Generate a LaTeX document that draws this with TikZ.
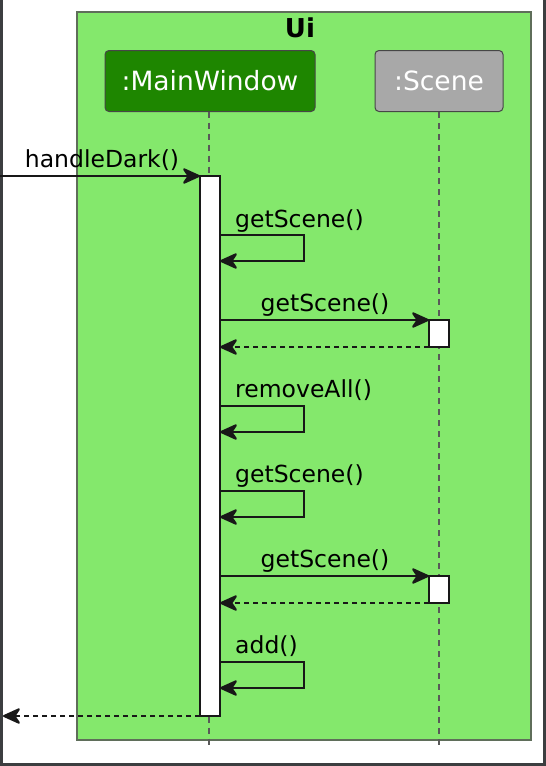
\documentclass[tikz,border=0pt]{standalone}
\usepackage{fontspec}
\setmainfont{DejaVu Sans}
\usetikzlibrary{arrows.meta}
\definecolor{uibg}{RGB}{132,232,108}
\definecolor{uiborder}{RGB}{95,110,90}
\definecolor{mwfill}{RGB}{30,134,0}
\definecolor{scfill}{RGB}{168,168,168}
\definecolor{frame}{RGB}{60,62,64}
\definecolor{ink}{RGB}{24,24,24}
\tikzset{
  head/.style={draw=ink!80, line width=1pt, rounded corners=4pt, text=white,
    font=\fontsize{26.5}{30}\selectfont, minimum height=61pt, inner sep=0pt},
  life/.style={draw=black!65, line width=1.2pt, dash pattern=on 6pt off 5pt},
  actbar/.style={draw=ink, fill=white, line width=2pt, minimum width=20pt, inner sep=0pt, outer sep=0pt},
  msg/.style={draw=ink, line width=2pt, -{Stealth[length=20pt,width=18pt,inset=6pt,round]}},
  ret/.style={msg, dash pattern=on 5pt off 4pt},
  lbl/.style={font=\fontsize{23.5}{28}\selectfont, text=black, inner sep=0pt}
}
\begin{document}
\begin{tikzpicture}[x=1pt,y=-1pt]
\useasboundingbox (0,0) rectangle (546,766);
\fill[white] (0,0) rectangle (546,766);
% window frame
\draw[frame, line width=3pt] (1.5,0) -- (1.5,764.5) -- (544.5,764.5) -- (544.5,0);
% Ui box
\draw[uiborder, fill=uibg, line width=1.5pt] (77,12) rectangle (531,740);
\node[font=\bfseries\fontsize{26}{30}\selectfont, anchor=base] (ui) at (300,37) {Ui};
% participants
\node[head, fill=mwfill, minimum width=210pt] (mw) at (210,81) {:MainWindow};
\node[head, fill=scfill, minimum width=128pt] (sc) at (439,81) {:Scene};
\coordinate (mwtop) at (209,111.5);
\coordinate (mwend) at (209,746);
\coordinate (scend) at (439,746);
\draw[life] (mwtop) -- (mwend);
\draw[life] (sc.south) -- (scend);
% activation bars
\node[actbar, minimum height=540pt, anchor=north] (a1) at (210,176) {};
\node[actbar, minimum height=27pt, anchor=north] (s1) at (439,320) {};
\node[actbar, minimum height=27pt, anchor=north] (s2) at (439,576) {};
% handleDark
\coordinate (in) at (0,176);
\draw[msg] (in) -- (a1.north west);
\node[lbl, anchor=base] (l0) at (102,167) {handleDark()};
% self getScene
\draw[msg] (a1.east |- 0,235) -- (304,235) -- (304,261) -- (a1.east |- 0,261);
\node[lbl, anchor=base west] (l1) at (235,227) {getScene()};
% getScene to Scene
\draw[msg] (a1.east |- s1.north) -- (s1.north west);
\node[lbl, anchor=base] (l2) at (325,311) {getScene()};
\draw[ret] (s1.south west) -- (a1.east |- s1.south);
% removeAll
\draw[msg] (a1.east |- 0,406) -- (304,406) -- (304,432) -- (a1.east |- 0,432);
\node[lbl, anchor=base west] (l3) at (235,397) {removeAll()};
% getScene self
\draw[msg] (a1.east |- 0,491) -- (304,491) -- (304,517) -- (a1.east |- 0,517);
\node[lbl, anchor=base west] (l4) at (235,482) {getScene()};
% getScene to Scene 2
\draw[msg] (a1.east |- s2.north) -- (s2.north west);
\node[lbl, anchor=base] (l5) at (325,567) {getScene()};
\draw[ret] (s2.south west) -- (a1.east |- s2.south);
% add
\draw[msg] (a1.east |- 0,662) -- (304,662) -- (304,688) -- (a1.east |- 0,688);
\node[lbl, anchor=base west] (l6) at (235,653) {add()};
% return
\coordinate (out) at (3,716);
\draw[ret] (a1.south west) -- (out);
\end{tikzpicture}
\end{document}
